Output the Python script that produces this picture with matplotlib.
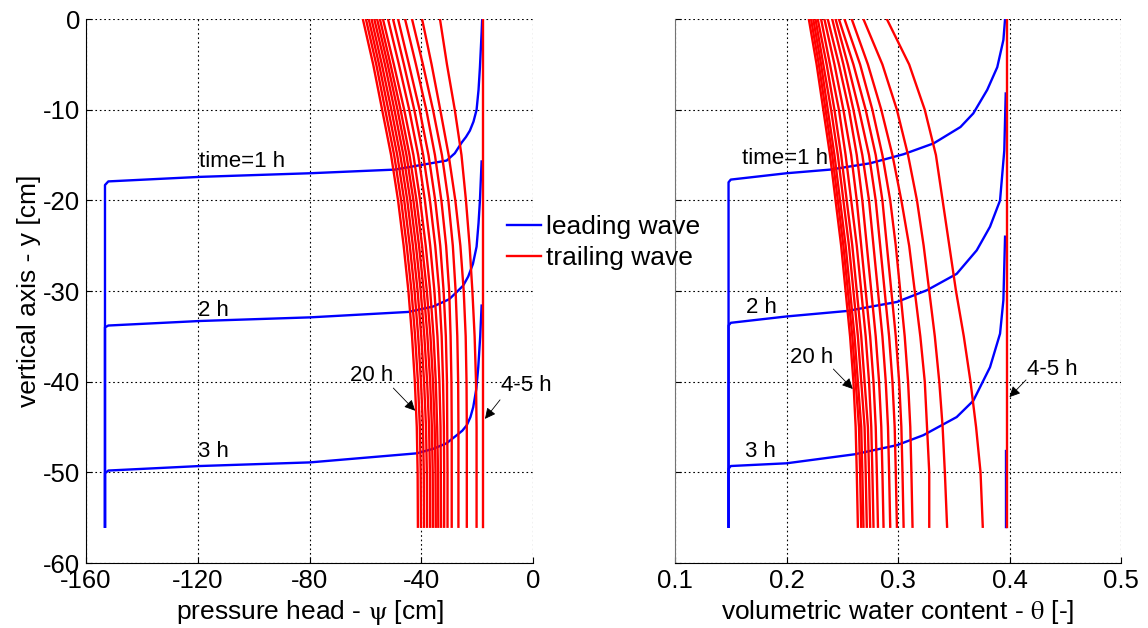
import matplotlib
matplotlib.use("Agg")
import matplotlib.pyplot as plt
from matplotlib.lines import Line2D

plt.rcParams['font.family'] = ['Liberation Sans', 'DejaVu Sans']
plt.rcParams['mathtext.fontset'] = 'stix'
plt.rcParams['axes.unicode_minus'] = False

# depth levels (cm) where the trailing-wave profiles are sampled
depth = [0, -5, -10, -15, -20, -25, -30, -35, -40, -45, -50, -56]
trailing_hours = [6, 7, 8, 9, 10, 11, 12, 13, 14, 15, 16, 17, 18, 19, 20]

# pressure head of the trailing wave, one row per hour (6 h ... 20 h)
psi_trailing = [
    [-33.3, -30.8, -28.0, -25.6, -24.0, -22.7, -21.7, -20.9, -20.4, -20.2, -20.2, -20.2],
    [-39.7, -36.3, -33.2, -30.2, -27.8, -26.0, -24.8, -24.1, -23.8, -23.7, -23.7, -23.7],
    [-43.3, -39.4, -35.8, -32.6, -30.3, -28.7, -27.7, -27.1, -26.8, -26.7, -26.7, -26.7],
    [-45.8, -41.9, -38.2, -35.1, -32.8, -31.1, -30.0, -29.5, -29.2, -29.1, -29.1, -29.1],
    [-48.3, -44.4, -40.6, -37.4, -35.0, -33.2, -32.0, -31.2, -30.8, -30.7, -30.6, -30.6],
    [-50.1, -46.2, -42.5, -39.3, -36.9, -35.0, -33.6, -32.7, -32.2, -31.9, -31.8, -31.8],
    [-51.9, -48.0, -44.3, -41.1, -38.7, -36.8, -35.3, -34.2, -33.5, -33.1, -33.0, -32.9],
    [-53.7, -49.8, -46.1, -42.8, -40.4, -38.4, -36.8, -35.6, -34.8, -34.3, -34.0, -33.9],
    [-54.8, -51.0, -47.4, -44.2, -41.7, -39.7, -38.0, -36.7, -35.8, -35.2, -34.9, -34.8],
    [-55.8, -52.0, -48.5, -45.3, -42.8, -40.8, -39.1, -37.8, -36.8, -36.2, -35.9, -35.8],
    [-56.8, -53.0, -49.6, -46.4, -43.9, -41.9, -40.2, -38.9, -37.9, -37.2, -36.9, -36.8],
    [-57.8, -54.1, -50.7, -47.5, -45.0, -43.0, -41.3, -40.0, -39.0, -38.3, -38.0, -37.9],
    [-58.8, -55.1, -51.8, -48.6, -46.1, -44.1, -42.4, -41.1, -40.1, -39.4, -39.1, -39.0],
    [-59.8, -56.1, -52.9, -49.7, -47.2, -45.2, -43.5, -42.2, -41.2, -40.5, -40.2, -40.1],
    [-60.9, -57.2, -54.0, -50.8, -48.3, -46.3, -44.6, -43.3, -42.3, -41.6, -41.3, -41.2],
]

# water content of the trailing wave, same hours and depths
theta_trailing = [
    [0.290, 0.310, 0.324, 0.334, 0.340, 0.346, 0.352, 0.359, 0.365, 0.370, 0.374, 0.376],
    [0.269, 0.286, 0.299, 0.309, 0.317, 0.323, 0.328, 0.333, 0.337, 0.340, 0.342, 0.344],
    [0.2585, 0.273, 0.285, 0.295, 0.303, 0.310, 0.315, 0.320, 0.324, 0.326, 0.328, 0.328],
    [0.252, 0.266, 0.277, 0.286, 0.293, 0.298, 0.302, 0.306, 0.309, 0.311, 0.312, 0.313],
    [0.247, 0.260, 0.271, 0.280, 0.286, 0.290, 0.294, 0.298, 0.301, 0.303, 0.304, 0.305],
    [0.244, 0.255, 0.265, 0.274, 0.280, 0.284, 0.288, 0.292, 0.295, 0.297, 0.298, 0.299],
    [0.241, 0.251, 0.260, 0.268, 0.274, 0.278, 0.282, 0.286, 0.289, 0.291, 0.292, 0.293],
    [0.237, 0.247, 0.256, 0.263, 0.268, 0.272, 0.276, 0.280, 0.283, 0.285, 0.286, 0.287],
    [0.234, 0.243, 0.251, 0.258, 0.263, 0.267, 0.271, 0.275, 0.278, 0.280, 0.281, 0.282],
    [0.231, 0.239, 0.247, 0.253, 0.258, 0.263, 0.267, 0.271, 0.274, 0.276, 0.277, 0.278],
    [0.228, 0.236, 0.243, 0.249, 0.254, 0.259, 0.263, 0.267, 0.270, 0.273, 0.274, 0.275],
    [0.226, 0.233, 0.240, 0.246, 0.251, 0.256, 0.260, 0.264, 0.267, 0.270, 0.271, 0.272],
    [0.224, 0.231, 0.237, 0.243, 0.248, 0.253, 0.257, 0.261, 0.264, 0.267, 0.268, 0.269],
    [0.222, 0.229, 0.235, 0.241, 0.246, 0.251, 0.255, 0.259, 0.262, 0.265, 0.266, 0.267],
    [0.220, 0.227, 0.233, 0.239, 0.244, 0.249, 0.253, 0.257, 0.260, 0.262, 0.263, 0.264],
]

# 4-5 h profile, still uniform over the column
depth_45h = [0, -56]
psi_45h = [-17.8, -17.8]
theta_45h = [0.398, 0.398]

# leading wave, pressure head panel
lead1_psi = [-153.2, -153.2, -152.0, -119.2, -79.8, -49.6, -30.9, -28.0, -25.5, -24.0,
             -22.6, -21.3, -20.2, -19.5, -19.0, -18.4, -18.2]
lead1_y = [-56.0, -18.3, -17.9, -17.4, -17.0, -16.6, -15.6, -14.8, -13.6, -13.0,
           -12.3, -11.3, -10.0, -7.8, -5.3, -1.5, 0.0]
lead2_psi = [-153.2, -153.2, -152.0, -119.2, -79.8, -44.6, -35.7, -30.0, -27.3, -25.0,
             -23.2, -21.5, -20.2, -19.5, -19.0, -18.4]
lead2_y = [-56.0, -34.0, -33.8, -33.3, -32.9, -32.3, -31.7, -30.9, -30.1, -29.4,
           -28.4, -27.0, -25.1, -22.5, -20.0, -15.7]
lead3_psi = [-153.2, -153.2, -152.0, -119.2, -79.8, -41.6, -35.7, -31.0, -27.3, -25.3,
             -23.7, -22.4, -21.4, -20.3, -19.6, -18.9, -18.4]
lead3_y = [-56.0, -50.1, -49.8, -49.3, -48.9, -47.9, -47.4, -46.8, -45.9, -45.4,
           -44.8, -43.9, -42.8, -40.8, -38.4, -35.0, -31.6]

# leading wave, water content panel
lead1_theta = [0.148, 0.148, 0.150, 0.200, 0.239, 0.275, 0.305, 0.332, 0.356, 0.3675,
               0.380, 0.389, 0.3945, 0.396]
lead1_ty = [-56.0, -18.0, -17.7, -17.0, -16.6, -15.9, -14.9, -13.7, -11.9, -10.4,
            -7.8, -5.3, -2.3, 0.0]
lead2_theta = [0.148, 0.148, 0.150, 0.200, 0.254, 0.299, 0.326, 0.3526, 0.3706, 0.3825,
               0.3915, 0.3953, 0.3966]
lead2_ty = [-56.0, -33.8, -33.5, -32.8, -32.2, -31.2, -29.9, -28.1, -25.5, -22.9,
            -20.0, -14.5, -8.2]
lead3_theta = [0.148, 0.148, 0.150, 0.200, 0.2614, 0.299, 0.3227, 0.3526, 0.3675, 0.3825,
               0.3915, 0.3945, 0.396]
lead3_ty = [-56.0, -49.6, -49.3, -49.0, -48.0, -47.0, -45.9, -43.9, -42.1, -38.4,
            -34.7, -31.0, -24.0]
lead4_theta = [0.397, 0.397]
lead4_ty = [-47.6, -56.0]

BLUE = (0, 0, 1)
RED = (1, 0, 0)
LW = 1.7
TICK_FS = 18.5
ANN_FS = 16

fig = plt.figure(figsize=(11.48, 6.28), dpi=100)
ax1 = fig.add_axes([0.0749, 0.1035, 0.3894, 0.866])
ax2 = fig.add_axes([0.588, 0.1035, 0.3885, 0.866])

for ax in (ax1, ax2):
    ax.set_ylim(-60, 0)
    ax.set_yticks(range(-60, 1, 10))
    ax.grid(True, color='black', linestyle=(0, (1.5, 2.5)), linewidth=0.8)
    ax.set_axisbelow(True)
    ax.spines['top'].set_visible(False)
    ax.spines['right'].set_visible(False)
    ax.tick_params(direction='in', length=4, labelsize=TICK_FS, pad=4)

# pressure head panel
ax1.plot(lead1_psi, lead1_y, color=BLUE, lw=LW)
ax1.plot(lead2_psi, lead2_y, color=BLUE, lw=LW)
ax1.plot(lead3_psi, lead3_y, color=BLUE, lw=LW)
for row in psi_trailing:
    ax1.plot(row, depth, color=RED, lw=LW)
ax1.plot(psi_45h, depth_45h, color=RED, lw=LW)
ax1.set_xlim(-160, 0)
ax1.set_xticks(range(-160, 1, 40))
ax1.set_xlabel(r'pressure head - $\mathrm{\psi}$ [cm]', fontsize=19, labelpad=4)
ax1.set_ylabel('vertical axis - y [cm]', fontsize=19, labelpad=1.5)

ax1.text(-119.5, -15.7, 'time=1 h', fontsize=ANN_FS, va='center')
ax1.text(-120.0, -32.1, '2 h', fontsize=ANN_FS, va='center')
ax1.text(-120.0, -47.7, '3 h', fontsize=ANN_FS, va='center')
ax1.text(-57.6, -39.3, '20 h', fontsize=ANN_FS, va='center', ha='center')
ax1.text(-11.6, -40.4, '4-5 h', fontsize=ANN_FS, va='center', ha='left', clip_on=False)
arrow = dict(arrowstyle='-|>', color='black', lw=0.6, mutation_scale=16,
             shrinkA=0, shrinkB=0)
ax1.annotate('', xy=(-42.2, -43.2), xytext=(-50.0, -40.7), arrowprops=arrow)
ax1.annotate('', xy=(-17.2, -44.1), xytext=(-11.8, -42.0), arrowprops=arrow)

# water content panel
ax2.plot(lead1_theta, lead1_ty, color=BLUE, lw=LW)
ax2.plot(lead2_theta, lead2_ty, color=BLUE, lw=LW)
ax2.plot(lead3_theta, lead3_ty, color=BLUE, lw=LW)
ax2.plot(lead4_theta, lead4_ty, color=BLUE, lw=LW)
for row in theta_trailing:
    ax2.plot(row, depth, color=RED, lw=LW)
ax2.plot(theta_45h, depth_45h, color=RED, lw=LW)
ax2.set_xlim(0.1, 0.5)
ax2.set_xticks([0.1, 0.2, 0.3, 0.4, 0.5])
ax2.set_xticklabels(['0.1', '0.2', '0.3', '0.4', '0.5'])
ax2.tick_params(labelleft=False)
ax2.spines['left'].set_color('0.45')
ax2.set_xlabel(r'volumetric water content - $\mathrm{\theta}$ [-]', fontsize=19, labelpad=4)

ax2.text(0.160, -15.4, 'time=1 h', fontsize=ANN_FS, va='center')
ax2.text(0.1637, -31.8, '2 h', fontsize=ANN_FS, va='center')
ax2.text(0.1628, -47.7, '3 h', fontsize=ANN_FS, va='center')
ax2.text(0.2225, -37.3, '20 h', fontsize=ANN_FS, va='center', ha='center')
ax2.text(0.4154, -38.6, '4-5 h', fontsize=ANN_FS, va='center', ha='left')
ax2.annotate('', xy=(0.2594, -40.8), xytext=(0.242, -38.6), arrowprops=arrow)
ax2.annotate('', xy=(0.3999, -41.7), xytext=(0.4148, -39.8), arrowprops=arrow)

handles = [Line2D([], [], color=BLUE, lw=LW), Line2D([], [], color=RED, lw=LW)]
fig.legend(handles, ['leading wave', 'trailing wave'], loc='upper left',
           bbox_to_anchor=(0.430, 0.678), frameon=False, fontsize=19,
           handlelength=1.3, handletextpad=0.2, labelspacing=0.25, borderpad=0)

fig.savefig('out.png', dpi=100)
